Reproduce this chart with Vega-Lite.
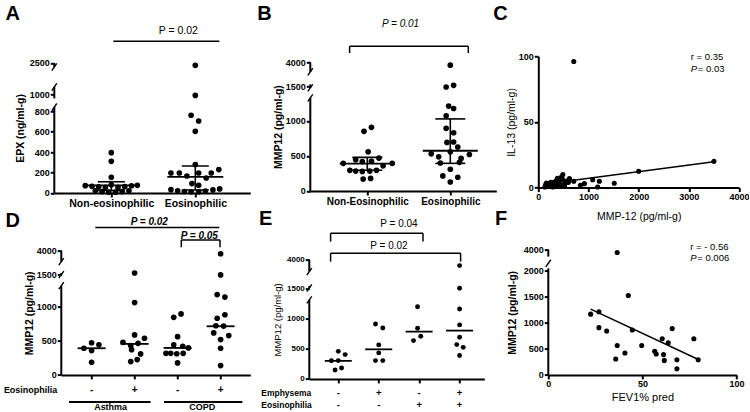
{
"$schema":"https://vega.github.io/schema/vega-lite/v6.json",
"background":"white",
"padding":{"left":3.3,"top":3.3,"right":0,"bottom":0},
"columns":3,
"spacing":{"row":17.3,"column":40},
"bounds":"flush",
"align":"each",
"config":{"font":"Liberation Sans","view":{"stroke":null},
"axis":{"domainColor":"#000","domainWidth":2,"tickColor":"#000","tickWidth":2,"tickSize":4,"labelColor":"#000","labelFont":"Liberation Sans","labelFontWeight":"bold","labelFontSize":9,"labelPadding":1,"labelOverlap":false,"labelFlush":false,"format":"d","titleColor":"#000","titleFont":"Liberation Sans","titleFontWeight":"bold","titleFontSize":10.5,"grid":false},
"text":{"font":"Liberation Sans","color":"#000"}},
"concat":[
{"width":215,"height":177.7,
"layer":[
{"data":{"values":[
{"x":1.00,"v":395},{"x":1.00,"v":310},{"x":1.00,"v":154},{"x":0.69,"v":72},{"x":0.77,"v":65},{"x":0.85,"v":60},{"x":0.93,"v":55},{"x":1.00,"v":80},{"x":1.08,"v":55},{"x":1.16,"v":62},{"x":1.24,"v":70},{"x":1.31,"v":75},{"x":0.81,"v":22},{"x":0.89,"v":14},{"x":0.97,"v":8},{"x":1.05,"v":8},{"x":1.13,"v":14},{"x":1.21,"v":22},
{"x":2.00,"v":2390},{"x":2.00,"v":990},{"x":1.95,"v":761},{"x":2.04,"v":705},{"x":2.00,"v":604},{"x":2.00,"v":278},{"x":2.28,"v":229},{"x":1.71,"v":196},{"x":1.81,"v":196},{"x":1.90,"v":166},{"x":2.04,"v":196},{"x":2.13,"v":147},{"x":2.19,"v":196},{"x":1.96,"v":92},{"x":2.04,"v":75},{"x":1.71,"v":33},{"x":1.79,"v":22},{"x":1.87,"v":15},{"x":1.95,"v":12},{"x":2.04,"v":12},{"x":2.12,"v":20},{"x":2.21,"v":30},{"x":2.29,"v":40}]},
"mark":{"type":"circle","size":32,"color":"#000","opacity":1},
"encoding":{"x":{"field":"x","type":"quantitative","scale":{"domain":[0.3214,2.6548],"range":[0,196],"nice":false,"zero":false},"axis":{"values":[1,2],"tickCount":50,"labelExpr":"datum.value == 1 ? 'Non-eosinophilic' : 'Eosinophilic'","title":null,"labelFontSize":10.5,"labelPadding":2,"labelOverlap":false}},
"y":{"field":"v","type":"quantitative","scale":{"domain":[0,800,1000,2500],"range":[177.7,96,79.3,47.7],"nice":false,"zero":false},"axis":{"values":[0,200,400,600,800,1000,2500],"tickCount":50,"labelOverlap":false,"domain":false,"title":"EPX (ng/ml-g)","titlePadding":4}}}},
{"data":{"values":[{"g":1,"med":75,"lo":25,"hi":110},{"g":2,"med":157,"lo":30,"hi":264}]},
"layer":[
{"mark":{"type":"rule","strokeWidth":1.6,"color":"#000"},"encoding":{"x":{"field":"g","type":"quantitative"},"y":{"field":"lo","type":"quantitative"},"y2":{"field":"hi"}}},
{"mark":{"type":"tick","orient":"horizontal","size":56,"thickness":1.8,"color":"#000","opacity":1},"encoding":{"x":{"field":"g","type":"quantitative"},"y":{"field":"med","type":"quantitative"}}},
{"mark":{"type":"tick","orient":"horizontal","size":27,"thickness":1.6,"color":"#000","opacity":1},"encoding":{"x":{"field":"g","type":"quantitative"},"y":{"field":"hi","type":"quantitative"}}},
{"mark":{"type":"tick","orient":"horizontal","size":27,"thickness":1.6,"color":"#000","opacity":1},"encoding":{"x":{"field":"g","type":"quantitative"},"y":{"field":"lo","type":"quantitative"}}}]},
{"data":{"values":[{"lo":0,"hi":851},{"lo":955,"hi":1361},{"lo":2310,"hi":2500}]},"mark":{"type":"rule","strokeWidth":2,"color":"#000"},"encoding":{"x":{"datum":0.3214},"y":{"field":"lo","type":"quantitative"},"y2":{"field":"hi"}}},
{"data":{"values":[{"v":851},{"v":1361},{"v":2310}]},"mark":{"type":"point","shape":"M -0.7 1 L 0.7 -1","size":50,"stroke":"#000","strokeWidth":1.4,"filled":false,"opacity":1},"encoding":{"x":{"datum":0.3214},"y":{"field":"v","type":"quantitative"}}},
{"data":{"values":[{}]},"mark":{"type":"rule","strokeWidth":1.5,"color":"#000"},"encoding":{"x":{"datum":1.024},"x2":{"datum":2.286},"y":{"datum":3530}}},
{"data":{"values":[{}]},"mark":{"type":"text","text":"P = 0.02","fontSize":10.5,"align":"center","baseline":"middle"},"encoding":{"x":{"datum":1.798},"y":{"datum":4019}}},
{"data":{"values":[{}]},"mark":{"type":"text","text":"A","fontSize":20,"fontWeight":"bold","align":"left","baseline":"alphabetic"},"encoding":{"x":{"datum":-0.2584},"y":{"datum":4560}}}
]},
{"width":189,"height":177.7,
"layer":[
{"data":{"values":[
{"x":0.96,"v":852},{"x":1.05,"v":910},{"x":1.01,"v":560},{"x":0.86,"v":445},{"x":0.94,"v":420},{"x":1.05,"v":425},{"x":1.14,"v":470},{"x":0.71,"v":395},{"x":1.19,"v":360},{"x":1.30,"v":395},{"x":0.79,"v":295},{"x":0.86,"v":285},{"x":0.94,"v":280},{"x":1.03,"v":285},{"x":1.11,"v":295},{"x":0.95,"v":170},{"x":1.04,"v":180},
{"x":2.00,"v":3700},{"x":1.95,"v":1490},{"x":2.04,"v":1600},{"x":1.98,"v":1215},{"x":2.04,"v":1180},{"x":1.95,"v":1076},{"x":1.95,"v":895},{"x":2.04,"v":832},{"x":1.96,"v":694},{"x":2.04,"v":700},{"x":2.09,"v":627},{"x":1.77,"v":531},{"x":1.86,"v":488},{"x":2.00,"v":560},{"x":2.13,"v":465},{"x":2.23,"v":522},{"x":1.88,"v":400},{"x":2.11,"v":410},{"x":2.00,"v":311},{"x":1.91,"v":215},{"x":2.09,"v":196},{"x":2.00,"v":129}]},
"mark":{"type":"circle","size":32,"color":"#000","opacity":1},
"encoding":{"x":{"field":"x","type":"quantitative","scale":{"domain":[0.3133,2.5542],"range":[1,187],"nice":false,"zero":false},"axis":{"values":[1,2],"tickCount":50,"labelExpr":"datum.value == 1 ? 'Non-Eosinophilic' : 'Eosinophilic'","title":null,"labelFontSize":10,"labelPadding":2,"labelOverlap":false,"offset":-2}},
"y":{"field":"v","type":"quantitative","scale":{"domain":[0,1000,1500,4000],"range":[175.7,105.7,71,47],"nice":false,"zero":false},"axis":{"values":[0,500,1000,1500,4000],"tickCount":50,"labelOverlap":false,"domain":false,"title":"MMP12 (pg/ml-g)","titlePadding":2,"offset":-1}}}},
{"data":{"values":[{"g":1,"med":390,"lo":297,"hi":480},{"g":2,"med":575,"lo":395,"hi":1030}]},
"layer":[
{"mark":{"type":"rule","strokeWidth":1.6,"color":"#000"},"encoding":{"x":{"field":"g","type":"quantitative"},"y":{"field":"lo","type":"quantitative"},"y2":{"field":"hi"}}},
{"mark":{"type":"tick","orient":"horizontal","size":55,"thickness":1.8,"color":"#000","opacity":1},"encoding":{"x":{"field":"g","type":"quantitative"},"y":{"field":"med","type":"quantitative"}}},
{"mark":{"type":"tick","orient":"horizontal","size":30,"thickness":1.6,"color":"#000","opacity":1},"encoding":{"x":{"field":"g","type":"quantitative"},"y":{"field":"hi","type":"quantitative"}}},
{"mark":{"type":"tick","orient":"horizontal","size":30,"thickness":1.6,"color":"#000","opacity":1},"encoding":{"x":{"field":"g","type":"quantitative"},"y":{"field":"lo","type":"quantitative"}}}]},
{"data":{"values":[{"lo":0,"hi":1334},{"lo":1478,"hi":1700},{"lo":3010,"hi":4000}]},"mark":{"type":"rule","strokeWidth":2,"color":"#000"},"encoding":{"x":{"datum":0.3133},"y":{"field":"lo","type":"quantitative"},"y2":{"field":"hi"}}},
{"data":{"values":[{"v":1334},{"v":1478},{"v":3010}]},"mark":{"type":"point","shape":"M -0.7 1 L 0.7 -1","size":50,"stroke":"#000","strokeWidth":1.4,"filled":false,"opacity":1},"encoding":{"x":{"datum":0.3133},"y":{"field":"v","type":"quantitative"}}},
{"data":{"values":[{}]},"mark":{"type":"rule","strokeWidth":1.5,"color":"#000"},"encoding":{"x":{"datum":0.787},"x2":{"datum":2.217},"y":{"datum":5667}}},
{"data":{"values":[{}]},"mark":{"type":"rule","strokeWidth":1.5,"color":"#000"},"encoding":{"x":{"datum":0.787},"y":{"datum":4969},"y2":{"datum":5667}}},
{"data":{"values":[{}]},"mark":{"type":"rule","strokeWidth":1.5,"color":"#000"},"encoding":{"x":{"datum":2.217},"y":{"datum":4969},"y2":{"datum":5667}}},
{"data":{"values":[{}]},"mark":{"type":"text","text":"P = 0.01","fontSize":10,"fontStyle":"italic","align":"center","baseline":"middle"},"encoding":{"x":{"datum":1.401},"y":{"datum":8031}}},
{"data":{"values":[{}]},"mark":{"type":"text","text":"B","fontSize":20,"fontWeight":"bold","align":"left","baseline":"alphabetic"},"encoding":{"x":{"datum":-0.3253},"y":{"datum":8448}}}
]},
{"width":200,"height":177.7,
"layer":[
{"data":{"values":[
{"x":707,"y":96},{"x":3500,"y":20},{"x":2000,"y":12.4},{"x":1514,"y":3.3},{"x":1216,"y":4.8},{"x":1183,"y":0.5},{"x":1084,"y":6},{"x":919,"y":3},{"x":840,"y":1.8},{"x":707,"y":4.8},{"x":621,"y":6.9},{"x":489,"y":10},{"x":460,"y":8},{"x":430,"y":6},{"x":400,"y":4.5},{"x":370,"y":3},{"x":340,"y":2},{"x":300,"y":3.5},{"x":270,"y":1},{"x":240,"y":2.5},{"x":210,"y":3},{"x":180,"y":1.5},{"x":150,"y":2},{"x":130,"y":0.5},{"x":160,"y":3.5},{"x":290,"y":0.5},{"x":520,"y":1},{"x":560,"y":5},{"x":530,"y":3},{"x":380,"y":7},{"x":320,"y":4},{"x":450,"y":2},{"x":600,"y":4},{"x":250,"y":4},{"x":200,"y":0.8},{"x":350,"y":5},{"x":420,"y":1.5},{"x":480,"y":6.5}]},
"mark":{"type":"circle","size":26,"color":"#000","opacity":1},
"encoding":{"x":{"field":"x","type":"quantitative","scale":{"domain":[0,4000],"range":[0,200.7],"nice":false,"zero":false},"axis":{"values":[0,1000,2000,3000,4000],"tickCount":50,"labelOverlap":false,"title":"MMP-12 (pg/ml-g)","titleFontWeight":"normal","titlePadding":10,"offset":-5.4}},
"y":{"field":"y","type":"quantitative","scale":{"domain":[0,100],"range":[172.3,41],"nice":false,"zero":false},"axis":{"values":[0,50,100],"tickCount":50,"labelOverlap":false,"title":"IL-13 (pg/ml-g)","titleFontWeight":"normal","titlePadding":2}}}},
{"data":{"values":[{"x":100,"y":2.6},{"x":3500,"y":19.6}]},"mark":{"type":"line","strokeWidth":1.5,"color":"#000"},"encoding":{"x":{"field":"x","type":"quantitative"},"y":{"field":"y","type":"quantitative"}}},
{"data":{"values":[{}]},"mark":{"type":"text","text":"r = 0.35","fontSize":9.5,"align":"left","baseline":"middle"},"encoding":{"x":{"datum":3040},"y":{"datum":99.2}}},
{"data":{"values":[{}]},"mark":{"type":"text","text":"P","fontSize":9.5,"fontStyle":"italic","align":"left","baseline":"middle"},"encoding":{"x":{"datum":3040},"y":{"datum":90.6}}},
{"data":{"values":[{}]},"mark":{"type":"text","text":"= 0.03","fontSize":9.5,"align":"left","baseline":"middle","dx":7},"encoding":{"x":{"datum":3040},"y":{"datum":90.6}}},
{"data":{"values":[{}]},"mark":{"type":"text","text":"C","fontSize":20,"fontWeight":"bold","align":"left","baseline":"alphabetic"},"encoding":{"x":{"datum":-897},"y":{"datum":127.9}}}
]},
{"width":215,"height":168.3,
"layer":[
{"data":{"values":[
{"x":0.82,"v":390},{"x":1.00,"v":470},{"x":1.17,"v":440},{"x":1.00,"v":356},{"x":1.00,"v":185},
{"x":2.00,"v":1700},{"x":2.00,"v":1063},{"x":2.00,"v":585},{"x":2.23,"v":536},{"x":1.73,"v":477},{"x":2.08,"v":462},{"x":1.91,"v":429},{"x":1.93,"v":370},{"x":2.14,"v":307},{"x":1.91,"v":195},{"x":2.06,"v":224},
{"x":2.91,"v":843},{"x":3.08,"v":893},{"x":3.00,"v":560},{"x":2.91,"v":440},{"x":3.12,"v":420},{"x":3.25,"v":395},{"x":2.73,"v":316},{"x":2.84,"v":316},{"x":2.98,"v":310},{"x":3.13,"v":316},{"x":3.00,"v":175},
{"x":4.00,"v":3700},{"x":4.00,"v":1500},{"x":3.92,"v":1190},{"x":4.10,"v":1150},{"x":4.10,"v":880},{"x":3.92,"v":830},{"x":3.89,"v":720},{"x":4.07,"v":715},{"x":3.84,"v":615},{"x":4.19,"v":575},{"x":4.00,"v":517},{"x":4.00,"v":390},{"x":4.00,"v":136}]},
"mark":{"type":"circle","size":32,"color":"#000","opacity":1},
"encoding":{"x":{"field":"x","type":"quantitative","scale":{"domain":[0.2953,4.6907],"range":[7,196],"nice":false,"zero":false},"axis":{"values":[1,2,3,4],"tickCount":50,"labels":false,"title":null,"offset":-4}},
"y":{"field":"v","type":"quantitative","scale":{"domain":[0,1000,1500,4000],"range":[164.3,96,64.3,40.3],"nice":false,"zero":false},"axis":{"values":[0,500,1000,1500,4000],"tickCount":50,"labelOverlap":false,"domain":false,"title":"MMP12 (pg/ml-g)","titlePadding":2,"offset":-7}}}},
{"data":{"values":[{"g":1,"med":390},{"g":2,"med":454},{"g":3,"med":395},{"g":4,"med":712}]},"mark":{"type":"tick","orient":"horizontal","size":28,"thickness":1.8,"color":"#000","opacity":1},"encoding":{"x":{"field":"g","type":"quantitative"},"y":{"field":"med","type":"quantitative"}}},
{"data":{"values":[{"lo":0,"hi":1331},{"lo":1530,"hi":1700},{"lo":2885,"hi":4000}]},"mark":{"type":"rule","strokeWidth":2,"color":"#000"},"encoding":{"x":{"datum":0.2953},"y":{"field":"lo","type":"quantitative"},"y2":{"field":"hi"}}},
{"data":{"values":[{"v":1331},{"v":1530},{"v":2885}]},"mark":{"type":"point","shape":"M -0.7 1 L 0.7 -1","size":50,"stroke":"#000","strokeWidth":1.4,"filled":false,"opacity":1},"encoding":{"x":{"datum":0.2953},"y":{"field":"v","type":"quantitative"}}},
{"data":{"values":[{}]},"mark":{"type":"rule","strokeWidth":1.5,"color":"#000"},"encoding":{"x":{"datum":1.086},"x2":{"datum":3.97},"y":{"datum":6427}}},
{"data":{"values":[{}]},"mark":{"type":"text","text":"P = 0.02","fontSize":10,"fontStyle":"italic","fontWeight":"bold","align":"center","baseline":"middle"},"encoding":{"x":{"datum":2.342},"y":{"datum":7052}}},
{"data":{"values":[{}]},"mark":{"type":"rule","strokeWidth":1.5,"color":"#000"},"encoding":{"x":{"datum":3.086},"x2":{"datum":3.986},"y":{"datum":5146}}},
{"data":{"values":[{}]},"mark":{"type":"rule","strokeWidth":1.5,"color":"#000"},"encoding":{"x":{"datum":3.086},"y":{"datum":4375},"y2":{"datum":5146}}},
{"data":{"values":[{}]},"mark":{"type":"rule","strokeWidth":1.5,"color":"#000"},"encoding":{"x":{"datum":3.986},"y":{"datum":4375},"y2":{"datum":5146}}},
{"data":{"values":[{}]},"mark":{"type":"text","text":"P = 0.05","fontSize":10,"fontStyle":"italic","fontWeight":"bold","align":"center","baseline":"middle"},"encoding":{"x":{"datum":3.505},"y":{"datum":5594}}},
{"data":{"values":[{"g":1,"s":"-"},{"g":2,"s":"+"},{"g":3,"s":"-"},{"g":4,"s":"+"}]},"mark":{"type":"text","fontSize":10,"fontWeight":"bold","align":"center","baseline":"middle"},"encoding":{"x":{"field":"g","type":"quantitative"},"y":{"datum":-220},"text":{"field":"s"}}},
{"data":{"values":[{}]},"mark":{"type":"text","text":"Eosinophilia","fontSize":9,"fontWeight":"bold","align":"right","baseline":"middle"},"encoding":{"x":{"datum":0.2023},"y":{"datum":-220}}},
{"data":{"values":[{}]},"mark":{"type":"rule","strokeWidth":2,"color":"#000"},"encoding":{"x":{"datum":0.4744},"x2":{"datum":2.372},"y":{"datum":-395}}},
{"data":{"values":[{}]},"mark":{"type":"rule","strokeWidth":2,"color":"#000"},"encoding":{"x":{"datum":2.684},"x2":{"datum":4.505},"y":{"datum":-395}}},
{"data":{"values":[{}]},"mark":{"type":"text","text":"Asthma","fontSize":9,"fontWeight":"bold","align":"center","baseline":"middle"},"encoding":{"x":{"datum":1.442},"y":{"datum":-471}}},
{"data":{"values":[{}]},"mark":{"type":"text","text":"COPD","fontSize":9,"fontWeight":"bold","align":"center","baseline":"middle"},"encoding":{"x":{"datum":3.574},"y":{"datum":-471}}},
{"data":{"values":[{}]},"mark":{"type":"text","text":"D","fontSize":20,"fontWeight":"bold","align":"left","baseline":"alphabetic"},"encoding":{"x":{"datum":-1.0},"y":{"datum":6531}}}
]},
{"width":189,"height":168.3,
"layer":[
{"data":{"values":[
{"x":0.83,"v":300},{"x":1.00,"v":302},{"x":1.17,"v":401},{"x":1.00,"v":455},{"x":0.92,"v":148},{"x":1.08,"v":181},
{"x":1.92,"v":907},{"x":2.10,"v":841},{"x":2.00,"v":561},{"x":2.00,"v":429},{"x":1.92,"v":302},{"x":2.10,"v":302},
{"x":2.96,"v":1193},{"x":2.96,"v":835},{"x":2.86,"v":632},{"x":3.04,"v":703},
{"x":4.00,"v":3500},{"x":4.00,"v":1500},{"x":4.00,"v":1155},{"x":4.00,"v":891},{"x":4.00,"v":687},{"x":3.93,"v":566},{"x":4.09,"v":521},{"x":4.00,"v":385}]},
"mark":{"type":"circle","size":24,"color":"#000","opacity":1},
"encoding":{"x":{"field":"x","type":"quantitative","scale":{"domain":[0.2827,4.611],"range":[0,175],"nice":false,"zero":false},"axis":{"values":[1,2,3,4],"tickCount":50,"labels":false,"title":null}},
"y":{"field":"v","type":"quantitative","scale":{"domain":[0,1000,1500,4000],"range":[168.3,107.7,77.7,49.3],"nice":false,"zero":false},"axis":{"values":[0,500,1000,1500,4000],"tickCount":50,"labelOverlap":false,"domain":false,"labelFontSize":8,"title":"MMP12 (pg/ml-g)","titleFontWeight":"normal","titleFontSize":9.5,"titlePadding":4}}}},
{"data":{"values":[{"g":1,"med":297},{"g":2,"med":488},{"g":3,"med":780},{"g":4,"med":797}]},"mark":{"type":"tick","orient":"horizontal","size":27,"thickness":1.8,"color":"#000","opacity":1},"encoding":{"x":{"field":"g","type":"quantitative"},"y":{"field":"med","type":"quantitative"}}},
{"data":{"values":[{"lo":0,"hi":1307},{"lo":1528,"hi":1700},{"lo":2970,"hi":4000}]},"mark":{"type":"rule","strokeWidth":2,"color":"#000"},"encoding":{"x":{"datum":0.2827},"y":{"field":"lo","type":"quantitative"},"y2":{"field":"hi"}}},
{"data":{"values":[{"v":1307},{"v":1528},{"v":2970}]},"mark":{"type":"point","shape":"M -0.7 1 L 0.7 -1","size":50,"stroke":"#000","strokeWidth":1.4,"filled":false,"opacity":1},"encoding":{"x":{"datum":0.2827},"y":{"field":"v","type":"quantitative"}}},
{"data":{"values":[{}]},"mark":{"type":"rule","strokeWidth":1.5,"color":"#000"},"encoding":{"x":{"datum":0.8095},"x2":{"datum":3.095},"y":{"datum":6342}}},
{"data":{"values":[{}]},"mark":{"type":"rule","strokeWidth":1.5,"color":"#000"},"encoding":{"x":{"datum":0.8095},"y":{"datum":5611},"y2":{"datum":6342}}},
{"data":{"values":[{}]},"mark":{"type":"rule","strokeWidth":1.5,"color":"#000"},"encoding":{"x":{"datum":3.095},"y":{"datum":5611},"y2":{"datum":6342}}},
{"data":{"values":[{}]},"mark":{"type":"text","text":"P = 0.04","fontSize":10,"align":"center","baseline":"middle"},"encoding":{"x":{"datum":2.501},"y":{"datum":7169}}},
{"data":{"values":[{}]},"mark":{"type":"rule","strokeWidth":1.5,"color":"#000"},"encoding":{"x":{"datum":0.8095},"x2":{"datum":4.025},"y":{"datum":4581}}},
{"data":{"values":[{}]},"mark":{"type":"rule","strokeWidth":1.5,"color":"#000"},"encoding":{"x":{"datum":0.8095},"y":{"datum":3850},"y2":{"datum":4581}}},
{"data":{"values":[{}]},"mark":{"type":"rule","strokeWidth":1.5,"color":"#000"},"encoding":{"x":{"datum":4.025},"y":{"datum":3850},"y2":{"datum":4581}}},
{"data":{"values":[{}]},"mark":{"type":"text","text":"P = 0.02","fontSize":10,"align":"center","baseline":"middle"},"encoding":{"x":{"datum":2.254},"y":{"datum":5232}}},
{"data":{"values":[{"g":1,"s":"-"},{"g":2,"s":"+"},{"g":3,"s":"-"},{"g":4,"s":"+"}]},"mark":{"type":"text","fontSize":9.5,"fontWeight":"bold","align":"center","baseline":"middle"},"encoding":{"x":{"field":"g","type":"quantitative"},"y":{"datum":-238},"text":{"field":"s"}}},
{"data":{"values":[{"g":1,"s":"-"},{"g":2,"s":"-"},{"g":3,"s":"+"},{"g":4,"s":"+"}]},"mark":{"type":"text","fontSize":9.5,"fontWeight":"bold","align":"center","baseline":"middle"},"encoding":{"x":{"field":"g","type":"quantitative"},"y":{"datum":-429},"text":{"field":"s"}}},
{"data":{"values":[{}]},"mark":{"type":"text","text":"Emphysema","fontSize":8.5,"fontWeight":"bold","align":"left","baseline":"middle"},"encoding":{"x":{"datum":-0.9045},"y":{"datum":-238}}},
{"data":{"values":[{}]},"mark":{"type":"text","text":"Eosinophilia","fontSize":8.5,"fontWeight":"bold","align":"left","baseline":"middle"},"encoding":{"x":{"datum":-0.9045},"y":{"datum":-429}}},
{"data":{"values":[{}]},"mark":{"type":"text","text":"E","fontSize":20,"fontWeight":"bold","align":"left","baseline":"alphabetic"},"encoding":{"x":{"datum":-0.9614},"y":{"datum":7081}}}
]},
{"width":200,"height":168.3,
"layer":[
{"data":{"values":[
{"x":22.5,"y":1168},{"x":26.9,"y":1214},{"x":26.9,"y":909},{"x":31,"y":844},{"x":36.6,"y":3750},{"x":36.6,"y":565},{"x":35.8,"y":305},{"x":40.7,"y":422},{"x":42.5,"y":1526},{"x":44.6,"y":864},{"x":49.6,"y":565},{"x":56.5,"y":455},{"x":57.3,"y":403},{"x":61.2,"y":390},{"x":60.5,"y":695},{"x":61.6,"y":279},{"x":63.7,"y":617},{"x":65.8,"y":890},{"x":68.3,"y":292},{"x":68.3,"y":117},{"x":77.3,"y":695},{"x":79.6,"y":292}]},
"mark":{"type":"circle","size":26,"color":"#000","opacity":1},
"encoding":{"x":{"field":"x","type":"quantitative","scale":{"domain":[0,100],"range":[10,198.3],"nice":false,"zero":false},"axis":{"values":[0,50,100],"tickCount":50,"labelOverlap":false,"title":"FEV1% pred","titleFontWeight":"normal","titleFontSize":11,"titlePadding":3,"offset":-4}},
"y":{"field":"y","type":"quantitative","scale":{"domain":[0,2000,4000],"range":[164.3,60.3,39.3],"nice":false,"zero":false},"axis":{"values":[0,500,1000,1500,2000,4000],"tickCount":50,"labelOverlap":false,"domain":false,"title":"MMP12 (pg/ml-g)","titlePadding":6,"offset":-10}}}},
{"data":{"values":[{"x":22.5,"y":1266},{"x":80,"y":292}]},"mark":{"type":"line","strokeWidth":1.5,"color":"#000"},"encoding":{"x":{"field":"x","type":"quantitative"},"y":{"field":"y","type":"quantitative"}}},
{"data":{"values":[{"lo":0,"hi":2248},{"lo":3362,"hi":4000}]},"mark":{"type":"rule","strokeWidth":2,"color":"#000"},"encoding":{"x":{"datum":0},"y":{"field":"lo","type":"quantitative"},"y2":{"field":"hi"}}},
{"data":{"values":[{"v":2724}]},"mark":{"type":"point","shape":"M -0.7 1 L 0.7 -1","size":50,"stroke":"#000","strokeWidth":1.4,"filled":false,"opacity":1},"encoding":{"x":{"datum":0},"y":{"field":"v","type":"quantitative"}}},
{"data":{"values":[{}]},"mark":{"type":"text","text":"r = - 0.56","fontSize":9.5,"align":"left","baseline":"middle"},"encoding":{"x":{"datum":75.4},"y":{"datum":4314}}},
{"data":{"values":[{}]},"mark":{"type":"text","text":"P","fontSize":9.5,"fontStyle":"italic","align":"left","baseline":"middle"},"encoding":{"x":{"datum":75.4},"y":{"datum":3267}}},
{"data":{"values":[{}]},"mark":{"type":"text","text":"= 0.006","fontSize":9.5,"align":"left","baseline":"middle","dx":7},"encoding":{"x":{"datum":75.4},"y":{"datum":3267}}},
{"data":{"values":[{}]},"mark":{"type":"text","text":"F","fontSize":20,"fontWeight":"bold","align":"left","baseline":"alphabetic"},"encoding":{"x":{"datum":-28.3},"y":{"datum":6381}}}
]}
]
}
